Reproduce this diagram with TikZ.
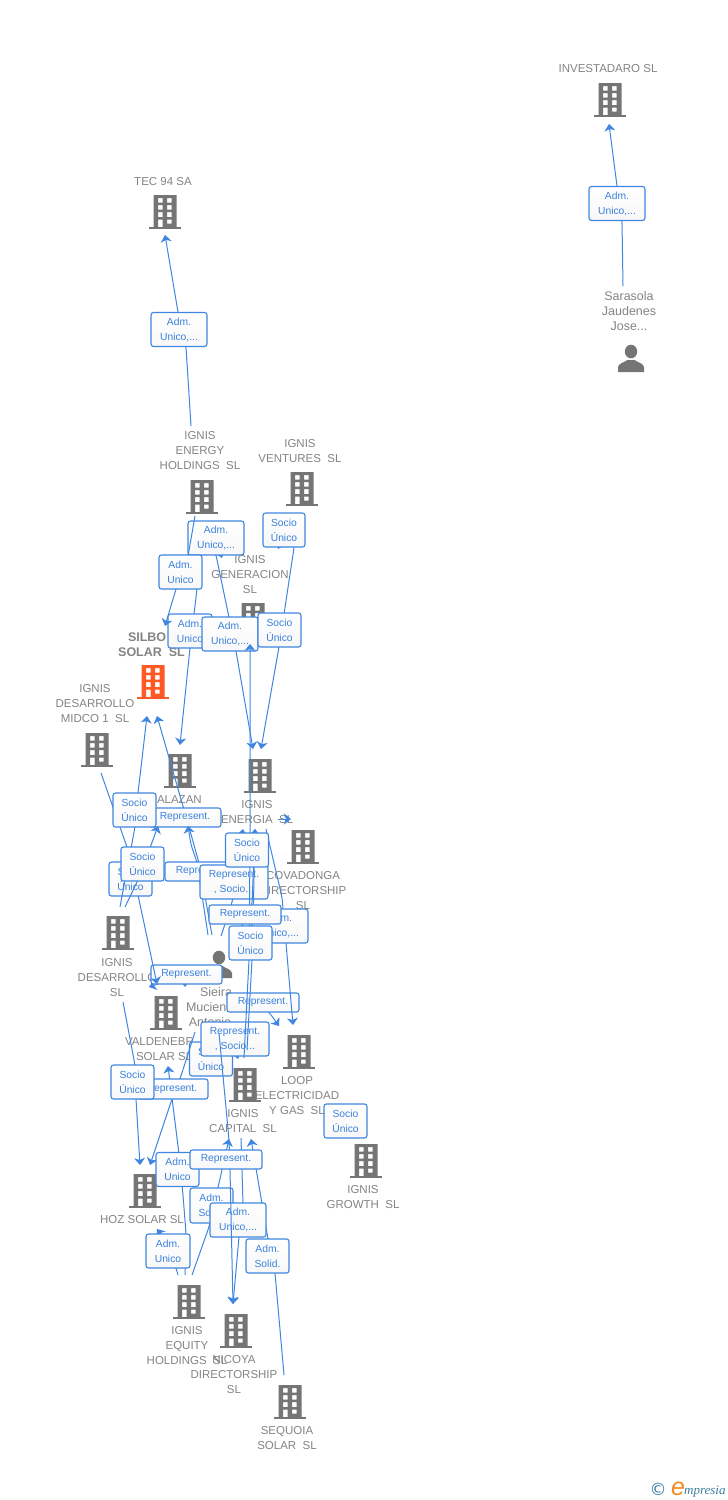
\documentclass[tikz,border=0pt]{standalone}
\usepackage{fontspec}
\setmainfont{Liberation Sans}
\newfontfamily\logofont{Liberation Serif}
\newfontfamily\symfont{DejaVu Sans}
\usetikzlibrary{arrows.meta}
\definecolor{lnblue}{HTML}{3F86E0}
\definecolor{txblue}{HTML}{3A80DC}
\definecolor{lbgray}{HTML}{848484}
\definecolor{icgray}{HTML}{757575}
\definecolor{hiorange}{HTML}{FF5A26}
\definecolor{logoteal}{HTML}{3B7F9E}
\definecolor{logoorange}{HTML}{F08A1E}
\tikzset{
  x=1pt,y=-1pt,
  lbl/.style={text=lbgray,font=\fontsize{11.5}{15}\selectfont,align=center,inner sep=0pt,outer sep=0pt},
  lblp/.style={lbl,font=\fontsize{12.5}{15}\selectfont},
  lblbold/.style={lbl,font=\fontsize{12.5}{15}\selectfont\bfseries},
  iconbox/.style={inner sep=0pt,outer sep=0pt,minimum width=32pt,minimum height=34pt},
  cn/.style={draw=lnblue,line width=1pt,rounded corners=5pt,-{Stealth[length=7pt,width=11pt,inset=2pt]}},
  relbox/.style={draw=lnblue,line width=1.1pt,rounded corners=2.5pt,top color=white,bottom color=black!3,
    text=txblue,font=\fontsize{10.3}{15}\selectfont,align=center,inner sep=0pt,outer sep=0pt}
}
% building icon: name, x, y, colour
\newcommand{\bldg}[4]{%
  \node[iconbox] (#1) at (#2,#3) {};
  \begin{scope}[shift={(#1.center)}]
    \fill[#4,even odd rule] (-11.5,-17) rectangle (11.5,15)
      (-7,-14) rectangle (-2.5,-9.5) (2,-14) rectangle (6.5,-9.5)
      (-7,-7) rectangle (-2.5,-2.5) (2,-7) rectangle (6.5,-2.5)
      (-7,0) rectangle (-2.5,5) (2,0) rectangle (6.5,5)
      (-7,7.5) rectangle (-2.5,15) (2,7.5) rectangle (6.5,11.5);
    \fill[#4] (-16,15) rectangle (16,17);
  \end{scope}}
% person icon: name, x, y
\newcommand{\persona}[3]{%
  \node[iconbox,minimum width=26pt,minimum height=27pt] (#1) at (#2,#3) {};
  \begin{scope}[shift={(#1.center)}]
    \fill[icgray] (0,-7) ellipse (6.2 and 6.8);
    \fill[icgray] (-13,13.5) -- (-13,8.5) .. controls (-12,4.5) and (-7,4) .. (-3.5,1.5)
      -- (3.5,1.5) .. controls (7,4) and (12,4.5) .. (13,8.5) -- (13,13.5) -- cycle;
  \end{scope}}
% connector: id, source end, two bends, arrow end
\newcommand{\conn}[5]{%
  \coordinate (#1s) at (#2); \coordinate (#1p) at (#3);
  \coordinate (#1q) at (#4); \coordinate (#1t) at (#5);
  \draw[cn] (#1s) -- (#1p) -- (#1q) -- (#1t);}
% relation label: name, centre, w, h, text
\newcommand{\lab}[5]{\node[relbox,minimum width=#3pt,minimum height=#4pt] (#1) at (#2) {#5};}
\begin{document}
\begin{tikzpicture}
\useasboundingbox (0,0) rectangle (728,1500);
\fill[white] (0,0) rectangle (728,1500);

% entities
\bldg{investadaro}{610}{100}{icgray}
\node[lbl] (tinvestadaro) at (608,69) {INVESTADARO SL};
\persona{sarasola}{631}{358.5}
\node[lblp] (tsarasola) at (629,311) {Sarasola\\Jaudenes\\Jose...};
\bldg{tec}{165}{212}{icgray}
\node[lbl] (ttec) at (163,182) {TEC 94 SA};
\bldg{energyh}{202}{497}{icgray}
\node[lbl] (tenergyh) at (200,451) {IGNIS\\ENERGY\\HOLDINGS~~SL};
\bldg{ventures}{302}{489}{icgray}
\node[lbl] (tventures) at (300,451.5) {IGNIS\\VENTURES~~SL};
\bldg{generacion}{253}{620}{icgray}
\node[lbl] (tgeneracion) at (250,575) {IGNIS\\GENERACION\\SL};
\bldg{silbo}{153}{682}{hiorange}
\node[lblbold,anchor=west] (tsilbo) at (128,637) {SILBO};
\node[lblbold] (tsilbob) at (151.5,652) {SOLAR~~SL};
\bldg{midco}{97}{750}{icgray}
\node[lbl] (tmidco) at (95,704) {IGNIS\\DESARROLLO\\MIDCO 1~~SL};
\bldg{palazan}{180}{771}{icgray}
\node[lbl,anchor=west] (tpalazan) at (157,800) {ALAZAN};
\bldg{energia}{260}{776}{icgray}
\node[lbl] (tenergia) at (257,805) {IGNIS};
\node[lbl,anchor=west] (tenergiab) at (221,820) {ENERGIA~~SL};
\bldg{covadonga}{303}{847}{icgray}
\node[lbl] (tcovadonga) at (303,891) {COVADONGA\\DIRECTORSHIP\\SL};
\bldg{desarrollo}{118}{933}{icgray}
\node[lbl] (tdesarrollo) at (117,978) {IGNIS\\DESARROLLO\\SL};
\persona{sieira}{219}{964.5}
\node[lblp] (tsieira) at (216,992) {Sieira};
\node[lblp,anchor=west] (tsieirab) at (186,1007) {Mucien};
\node[lblp] (tsieirac) at (210,1022) {Antonio};
\bldg{valdenebro}{166}{1013}{icgray}
\node[lbl,anchor=west] (tvalde) at (125,1042) {VALDENEBR};
\node[lbl,anchor=west] (tvaldeb) at (136,1057) {SOLAR SL};
\bldg{loop}{299}{1052}{icgray}
\node[lbl] (tloop) at (297,1096) {LOOP\\ELECTRICIDAD\\Y GAS~~SL};
\bldg{capital}{245}{1085}{icgray}
\node[lbl] (tcapital) at (243,1121.5) {IGNIS\\CAPITAL~~SL};
\bldg{growth}{366}{1161}{icgray}
\node[lbl] (tgrowth) at (363,1197.5) {IGNIS\\GROWTH~~SL};
\bldg{hoz}{145}{1191}{icgray}
\node[lbl] (thoz) at (142,1220) {HOZ SOLAR SL};
\bldg{equity}{189}{1302}{icgray}
\node[lbl] (tequity) at (187,1346) {IGNIS\\EQUITY\\HOLDINGS~~SL};
\bldg{nicoya}{236}{1331}{icgray}
\node[lbl] (tnicoya) at (234,1375) {NICOYA\\DIRECTORSHIP\\SL};
\bldg{sequoia}{290}{1402}{icgray}
\node[lbl] (tsequoia) at (287,1438.5) {SEQUOIA\\SOLAR~~SL};

% top connectors
\conn{ea}{623,286}{622,221}{617,186}{609,124}
\lab{ba}{617,203.5}{56}{34}{Adm.\\Unico,...}
\conn{eb}{191,426}{186,347}{178,312}{165,235}
\lab{bb}{179,329.5}{56}{34}{Adm.\\Unico,...}

% upper cluster
\conn{ec}{197,557}{197,589}{190,648}{180,745}
\lab{bc}{190,631}{44}{34}{Adm.\\Unico}
\conn{ed}{214,548}{216,555}{236,651}{253,749}
\lab{bd}{230,634}{56}{34}{Adm.\\Unico,...}
\conn{ee}{206,522}{212,530}{218,545}{222,558}
\lab{be}{216,538}{56}{34}{Adm.\\Unico,...}
\conn{ef}{195,516}{188,556}{176,589}{165,626}
\lab{bf}{180.5,572}{43}{34}{Adm.\\Unico}
\conn{eg}{296,514}{294,548}{279,647}{261,749}
\conn{eh}{290,515}{286,530}{282,540}{278,549}
\lab{bh}{284,530}{42}{34}{Socio\\Único}
\lab{bg}{279.5,630}{43}{34}{Socio\\Único}

% lower clusters
\lab{bi}{211,1059}{43}{34}{Socio\\Único}
\conn{ej}{225,1035}{230,1040}{235,1045}{238,1059}
\lab{bj}{235,1039}{68}{34}{Represent.\\, Socio...}
\conn{ek}{185,978}{185,979}{185,980}{185,987}
\conn{el}{215,975}{200,975}{175,978}{149,987}
\lab{bl}{186.5,974.5}{71}{19}{Represent.}
\conn{em}{245,1000}{255,1002}{269,1012}{279,1026}
\lab{bm}{263,1002.5}{72}{19}{Represent.}
\conn{en}{185,1275}{186,1233}{181,1170}{168,1066}
\conn{eo}{195,1032}{180,1079}{172,1099}{150,1165}
\lab{bo}{172,1089}{72}{20}{Represent.}
\conn{ep}{123,1002}{135,1065}{136,1099}{140,1165}
\lab{bp}{132.5,1082}{43}{34}{Socio\\Único}
\conn{eq}{178,1275}{176,1268}{165,1240}{157,1229}
\lab{bq}{168,1251}{44}{34}{Adm.\\Unico}
\lab{bn}{177.5,1169.5}{43}{34}{Adm.\\Unico}
\conn{er}{284,1375}{275,1273}{268,1239}{251,1139}
\lab{br}{267.5,1256}{43}{34}{Adm.\\Solid.}
\conn{es}{192,1275}{209,1227}{222,1170}{229,1139}
\lab{bs}{211.5,1205.5}{43}{35}{Adm.\\Solid.}
\conn{et}{241,1138}{243,1203}{239,1237}{233,1304}
\lab{bt}{238,1220}{56}{34}{Adm.\\Unico,...}
\conn{eu}{219,1033}{229,1140}{230,1170}{233,1304}
\lab{bu}{226,1159.5}{72}{19}{Represent.}
\lab{bv}{345.5,1121}{43}{34}{Socio\\Único}

% middle cluster
\conn{ew}{101,773}{127,847}{138,895}{157,984}
\lab{bw}{130.5,879}{43}{34}{Socio\\Único}
\conn{ex}{212,935}{199,863}{189,827}{157,716}
\lab{bx}{185,817.5}{72}{19}{Represent.}
\conn{ey}{208,935}{197,862}{191,845}{188,826}
\lab{by}{201,871.5}{72}{19}{Represent.}
\conn{ez}{120,907}{135,827}{138,793}{147,716}
\lab{bz}{134.5,810}{43}{34}{Socio\\Único}
\conn{fa}{125,907}{138,880}{150,848}{158,826}
\lab{cb}{142.5,864}{43}{34}{Socio\\Único}
\conn{fb}{221,936}{225,924}{233,899}{243,829}
\lab{cc}{234,882}{68}{34}{Represent.\\, Socio...}
\conn{fc}{244,1058}{249,960}{250,850}{250,644}
\conn{fd}{247,1050}{252,960}{253,926}{255,829}
\conn{fe}{266,829}{282,897}{286,943}{293,1025}
\lab{cf}{280,926}{56}{34}{Adm.\\Unico,...}
\conn{ff}{232,936}{243,925}{252,905}{255,829}
\lab{cg}{245,914.5}{72}{19}{Represent.}
\lab{ch}{250.5,943}{43}{34}{Socio\\Único}
\lab{ci}{247,850}{43}{34}{Socio\\Único}
\conn{fg}{281,819}{283,819}{284,819}{291,819}

% logo
\node[inner sep=0pt,text=logoteal,font=\symfont\fontsize{17}{17}\selectfont] (logoc) at (658,1489) {©};
\node[inner sep=0pt,text=logoorange,font=\fontsize{25}{25}\selectfont\itshape,anchor=base west] (logoe) at (671,1495) {e};
\node[inner sep=0pt,text=logoteal,font=\logofont\fontsize{13}{13}\selectfont\itshape,anchor=base west] (logom) at (684,1494) {mpresia};
\end{tikzpicture}
\end{document}
